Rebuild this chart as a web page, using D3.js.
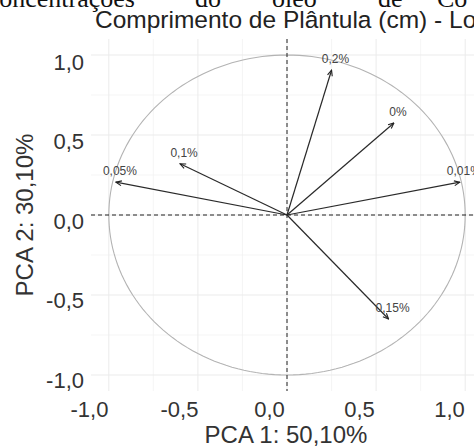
<!DOCTYPE html>
<html>
<head>
<meta charset="utf-8">
<script src="https://cdn.jsdelivr.net/npm/d3@7"></script>
<style>
  html, body { margin: 0; padding: 0; background: #fff; overflow: hidden; }
  svg { display: block; }
</style>
</head>
<body>
<div id="chart"></div>
<script>
// PCA variable loadings (correlation circle)
const labels = ['0%', '0,01%', '0,05%', '0,1%', '0,15%', '0,2%'];
const pc1 = [0.60, 0.97, -0.96, -0.60, 0.57, 0.25];
const pc2 = [0.575, 0.205, 0.205, 0.32, -0.65, 0.905];

const tickValues = [-1, -0.5, 0, 0.5, 1];
const minorValues = [-0.75, -0.25, 0.25, 0.75];

const titleText = 'Comprimento de Plântula (cm) - Lo';
const xTitle = 'PCA 1: 50,10%';
const yTitle = 'PCA 2: 30,10%';
// words of the document line cut off above the figure
const pageWords = ['concentrações', 'do', 'óleo', 'de', 'Co'];

const width = 474, height = 446;
const font = '"Liberation Sans", Arial, sans-serif';

const svg = d3.select('#chart').append('svg')
  .attr('width', width)
  .attr('height', height);

// panel scales (ggplot expand of 5%)
const x = d3.scaleLinear().domain([-1.1, 1.1]).range([91, 483]);
const y = d3.scaleLinear().domain([-1.1, 1.1]).range([391, 39]);
// tick labels were set in a bit off the grid in the original
const xLab = d3.scaleLinear().domain([-1, 1]).range([89, 449]);
const yLab = d3.scaleLinear().domain([-1, 1]).range([380, 62]);

const ptBR = d3.formatLocale({ decimal: ',', thousands: '.', grouping: [3], currency: ['R$', ''], minus: '-' });
const fmt = ptBR.format('.1f');

// grid
const gGrid = svg.append('g').attr('class', 'grid');
gGrid.selectAll('line.vminor').data(minorValues).join('line')
  .attr('x1', d => x(d)).attr('x2', d => x(d))
  .attr('y1', y.range()[1]).attr('y2', y.range()[0])
  .style('stroke', '#f0f0f0').style('stroke-width', 0.7);
gGrid.selectAll('line.hminor').data(minorValues).join('line')
  .attr('y1', d => y(d)).attr('y2', d => y(d))
  .attr('x1', x.range()[0]).attr('x2', x.range()[1])
  .style('stroke', '#f0f0f0').style('stroke-width', 0.7);
gGrid.selectAll('line.vmajor').data(tickValues).join('line')
  .attr('x1', d => x(d)).attr('x2', d => x(d))
  .attr('y1', y.range()[1]).attr('y2', y.range()[0])
  .style('stroke', '#ebebeb').style('stroke-width', 1);
gGrid.selectAll('line.hmajor').data(tickValues).join('line')
  .attr('y1', d => y(d)).attr('y2', d => y(d))
  .attr('x1', x.range()[0]).attr('x2', x.range()[1])
  .style('stroke', '#ebebeb').style('stroke-width', 1);

// unit circle
const circlePts = d3.range(0, 361, 2).map(a => [Math.cos(a * Math.PI / 180), Math.sin(a * Math.PI / 180)]);
svg.append('path')
  .datum(circlePts)
  .attr('d', d3.line().x(d => x(d[0])).y(d => y(d[1])))
  .style('fill', 'none')
  .style('stroke', '#b3b3b3')
  .style('stroke-width', 1.1);

// reference lines at zero
svg.append('line')
  .attr('x1', x.range()[0]).attr('x2', x.range()[1])
  .attr('y1', y(0)).attr('y2', y(0))
  .style('stroke', '#222').style('stroke-width', 1).style('stroke-dasharray', '4,3');
svg.append('line')
  .attr('x1', x(0)).attr('x2', x(0))
  .attr('y1', y.range()[1]).attr('y2', y.range()[0])
  .style('stroke', '#222').style('stroke-width', 1).style('stroke-dasharray', '4,3');

// arrows
svg.append('defs').append('marker')
  .attr('id', 'head')
  .attr('viewBox', '0 0 10 10')
  .attr('refX', 9).attr('refY', 5)
  .attr('markerWidth', 7).attr('markerHeight', 7)
  .attr('markerUnits', 'userSpaceOnUse')
  .attr('orient', 'auto')
  .append('path')
  .attr('d', 'M1,1.5 L9,5 L1,8.5')
  .style('fill', 'none')
  .style('stroke', '#222')
  .style('stroke-width', 1.6);

const vars = labels.map((l, i) => ({ label: l, pc1: pc1[i], pc2: pc2[i] }));

svg.append('g').attr('class', 'arrows')
  .selectAll('line').data(vars).join('line')
  .attr('x1', x(0)).attr('y1', y(0))
  .attr('x2', d => x(d.pc1)).attr('y2', d => y(d.pc2))
  .style('stroke', '#2a2a2a')
  .style('stroke-width', 1.2)
  .attr('marker-end', 'url(#head)');

svg.append('g').attr('class', 'var-labels')
  .selectAll('text').data(vars).join('text')
  .attr('x', d => x(d.pc1) + 4)
  .attr('y', d => y(d.pc2) - 7)
  .attr('text-anchor', 'middle')
  .style('font-family', font)
  .style('font-size', '12px')
  .style('fill', '#444')
  .text(d => d.label);

// axes (labels only, no lines)
const xAxis = svg.append('g')
  .attr('transform', 'translate(0,398)')
  .call(d3.axisBottom(xLab).tickValues(tickValues).tickFormat(fmt).tickSize(0).tickPadding(3));
const yAxis = svg.append('g')
  .attr('transform', 'translate(87,0)')
  .call(d3.axisLeft(yLab).tickValues(tickValues).tickFormat(fmt).tickSize(0).tickPadding(3));
[xAxis, yAxis].forEach(g => {
  g.select('.domain').remove();
  g.selectAll('text')
    .style('font-family', font)
    .style('font-size', '22px')
    .style('fill', '#333');
});

// axis titles
svg.append('text')
  .attr('x', 286).attr('y', 443)
  .attr('text-anchor', 'middle')
  .style('font-family', font).style('font-size', '24px').style('fill', '#333')
  .text(xTitle);
svg.append('text')
  .attr('transform', 'translate(25,215) rotate(-90)')
  .attr('dy', '0.35em')
  .attr('text-anchor', 'middle')
  .style('font-family', font).style('font-size', '24px').style('fill', '#333')
  .text(yTitle);

// plot title
svg.append('text')
  .attr('x', 95).attr('y', 28)
  .style('font-family', font).style('font-size', '24.5px').style('fill', '#222')
  .text(titleText);

// line of the surrounding document, cut by the top edge
const wordX = [135, 195, 272, 378, 437];
svg.append('g').selectAll('text').data(pageWords).join('text')
  .attr('x', (d, i) => wordX[i])
  .attr('y', 7)
  .attr('text-anchor', (d, i) => i === 0 ? 'end' : 'start')
  .style('font-family', '"Liberation Serif", "Times New Roman", serif')
  .style('font-size', '26px')
  .style('fill', '#111')
  .text(d => d);
</script>
</body>
</html>
